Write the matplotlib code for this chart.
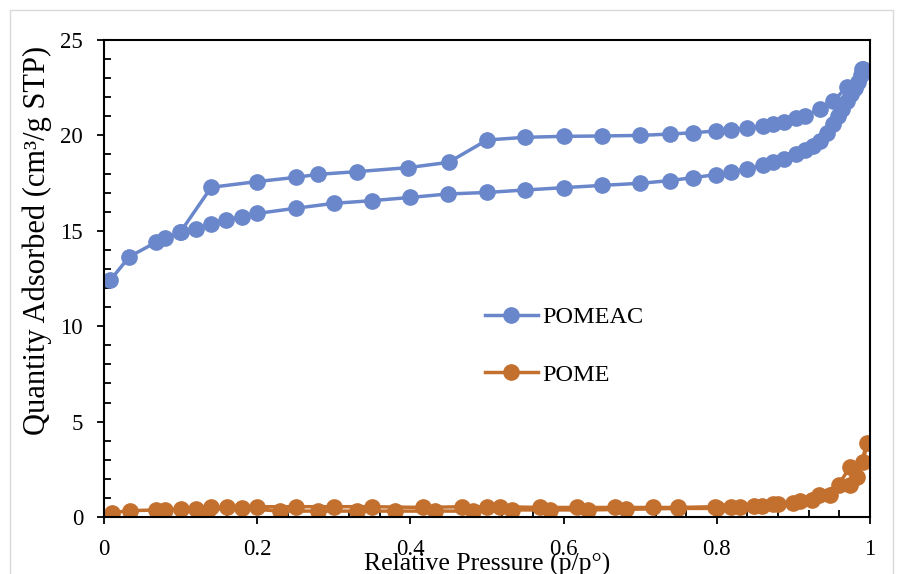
import matplotlib.pyplot as plt
from matplotlib.patches import Rectangle
from matplotlib.ticker import MultipleLocator

plt.rcParams['font.family'] = ['Liberation Serif', 'DejaVu Serif']

# POMEAC : adsorption puis désorption
pomeac_x = [0.008, 0.033, 0.068, 0.080, 0.099, 0.120, 0.140, 0.159, 0.180, 0.200,
            0.250, 0.300, 0.350, 0.400, 0.449, 0.500, 0.550, 0.600, 0.650, 0.700,
            0.739, 0.769, 0.799, 0.819, 0.839, 0.860, 0.874, 0.888, 0.904, 0.915,
            0.925, 0.935, 0.944, 0.952, 0.958, 0.964, 0.970, 0.975, 0.980, 0.984,
            0.988, 0.991,
            0.989, 0.970, 0.952, 0.935, 0.915, 0.904, 0.888, 0.874, 0.860, 0.839,
            0.819, 0.799, 0.769, 0.739, 0.700, 0.650, 0.600, 0.550, 0.500, 0.450,
            0.397, 0.330, 0.280, 0.250, 0.200, 0.140, 0.100]
pomeac_y = [12.4, 13.64, 14.4, 14.6, 14.92, 15.08, 15.36, 15.57, 15.74, 15.91,
            16.18, 16.44, 16.58, 16.75, 16.93, 17.01, 17.14, 17.26, 17.38, 17.49,
            17.63, 17.79, 17.94, 18.08, 18.26, 18.43, 18.59, 18.78, 19.03, 19.23,
            19.45, 19.7, 20.1, 20.6, 21.0, 21.4, 21.8, 22.15, 22.5, 22.8,
            23.15, 23.5,
            23.46, 22.52, 21.82, 21.38, 21.04, 20.9, 20.72, 20.58, 20.49, 20.37,
            20.28, 20.23, 20.14, 20.07, 20.0, 19.97, 19.95, 19.9, 19.76, 18.59,
            18.31, 18.1, 17.96, 17.8, 17.58, 17.28, 14.95]

# POME : adsorption puis désorption
pome_x = [0.010, 0.034, 0.068, 0.080, 0.100, 0.120, 0.134, 0.160, 0.180, 0.230,
          0.280, 0.330, 0.380, 0.432, 0.482, 0.532, 0.582, 0.632, 0.682, 0.750,
          0.800, 0.830, 0.859, 0.880, 0.909, 0.948, 0.974, 0.983, 0.996,
          0.991, 0.974, 0.959, 0.933, 0.924, 0.900, 0.874, 0.848, 0.819, 0.798,
          0.750, 0.717, 0.667, 0.617, 0.569, 0.517, 0.500, 0.468, 0.417, 0.350,
          0.300, 0.250, 0.200, 0.140]
pome_y = [0.23, 0.33, 0.37, 0.37, 0.42, 0.44, 0.28, 0.5, 0.45, 0.31,
          0.31, 0.31, 0.31, 0.31, 0.31, 0.37, 0.37, 0.37, 0.4, 0.45,
          0.45, 0.5, 0.6, 0.68, 0.85, 1.15, 1.68, 2.08, 3.86,
          2.9, 2.64, 1.68, 1.15, 0.89, 0.75, 0.68, 0.58, 0.54, 0.54,
          0.5, 0.5, 0.5, 0.5, 0.5, 0.54, 0.54, 0.54, 0.5, 0.54,
          0.54, 0.54, 0.54, 0.5]

bleu = '#6A87CB'
orange = '#C3702F'

fig = plt.figure(figsize=(8.99, 5.74), dpi=100)
ax = fig.add_axes([104/899, 57/574, 766/899, 477/574])

ax.plot(pomeac_x, pomeac_y, '-o', color=bleu, lw=2.5, ms=11, label='POMEAC')
ax.plot(pome_x, pome_y, '-o', color=orange, lw=2.5, ms=11, label='POME')

ax.set_xlim(0, 1)
ax.set_ylim(0, 25)
ax.xaxis.set_minor_locator(MultipleLocator(0.04))
ax.yaxis.set_major_locator(MultipleLocator(5))
ax.yaxis.set_minor_locator(MultipleLocator(1))
ax.set_xticks([0, 0.2, 0.4, 0.6, 0.8, 1])
ax.set_xticklabels(['0', '0.2', '0.4', '0.6', '0.8', '1'])

ax.tick_params(which='major', direction='out', length=5, width=1.3, labelsize=16.5)
ax.tick_params(axis='x', which='major', pad=11)
ax.tick_params(axis='y', which='major', pad=10)
ax.tick_params(which='minor', direction='in', length=5, width=1.3)
for s in ax.spines.values():
    s.set_linewidth(1.5)

ax.set_xlabel('Relative Pressure (p/p°)', fontsize=18.5)
ax.set_ylabel('Quantity Adsorbed (cm³/g STP)', fontsize=22)
ax.xaxis.set_label_coords(0.5, -0.075)
ax.yaxis.set_label_coords(-0.068, 0.58)

ax.legend(loc='center left', bbox_to_anchor=(0.497, 0.3585), frameon=False,
          fontsize=17.5, handlelength=2.2, labelspacing=1.45, handletextpad=0.17,
          borderpad=0, borderaxespad=0)

# cadre gris de la zone de graphique
fig.patches.append(Rectangle((10/899, -0.1), 883/899, 1.1 - 10/574,
                             transform=fig.transFigure, fill=False,
                             edgecolor='#D9D9D9', lw=1))

fig.savefig('out.png', dpi=100)
